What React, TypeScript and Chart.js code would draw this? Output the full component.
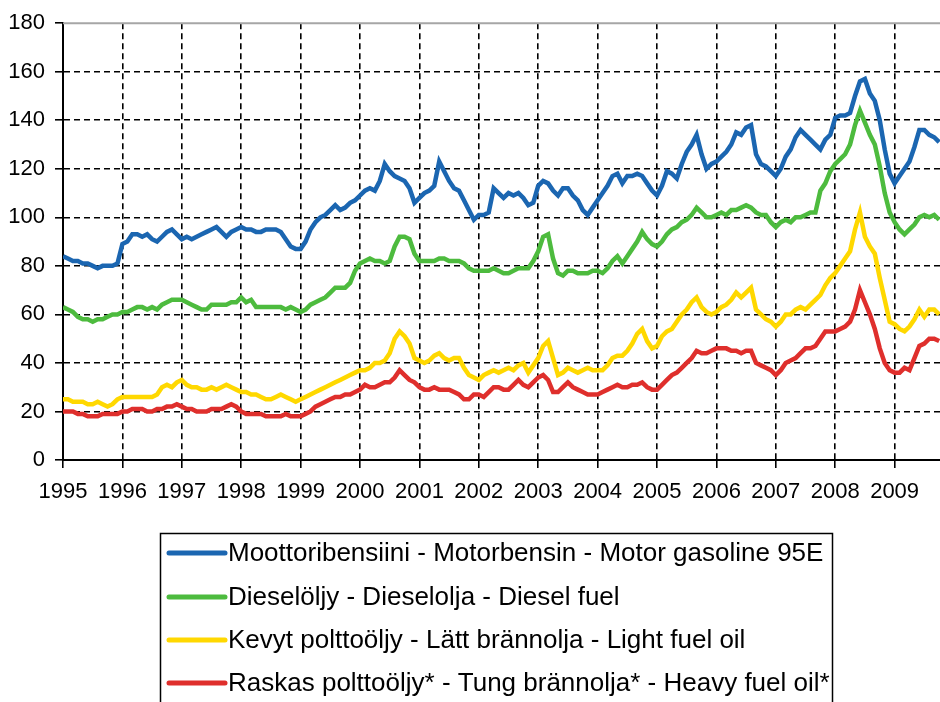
import React, { useEffect, useRef } from "react";
import { Chart, registerables } from "chart.js";

Chart.register(...registerables);

const START_YEAR = 1995;
const X_MIN = 1995;
const X_MAX = 2009.764;
const Y_TICKS = [0, 20, 40, 60, 80, 100, 120, 140, 160, 180];

const seriesLabels = [
  "Moottoribensiini - Motorbensin - Motor gasoline 95E",
  "Dieselöljy - Dieselolja - Diesel fuel",
  "Kevyt polttoöljy - Lätt brännolja - Light fuel oil",
  "Raskas polttoöljy* - Tung brännolja* - Heavy fuel oil*",
];
const seriesColors = ["#1b66b1", "#4dbb3e", "#ffd800", "#df2f2c"];

// monthly values, Jan 1995 .. Oct 2009
const gasoline = [
  84, 83, 82, 82, 81, 81, 80, 79, 80, 80, 80, 81,
  89, 90, 93, 93, 92, 93, 91, 90, 92, 94, 95, 93,
  91, 92, 91, 92, 93, 94, 95, 96, 94, 92, 94, 95,
  96, 95, 95, 94, 94, 95, 95, 95, 94, 91, 88, 87,
  87, 90, 95, 98, 100, 101, 103, 105, 103, 104, 106, 107,
  109, 111, 112, 111, 115, 122, 119, 117, 116, 115, 112, 106,
  108, 110, 111, 113, 123, 119, 115, 112, 111, 107, 103, 99,
  101, 101, 102, 112, 110, 108, 110, 109, 110, 108, 105, 106,
  113, 115, 114, 111, 109, 112, 112, 109, 107, 103, 101, 104,
  107, 110, 113, 117, 118, 114, 117, 117, 118, 117, 114, 111,
  109, 113, 119, 118, 116, 122, 127, 130, 134, 126, 120, 122,
  123, 125, 127, 130, 135, 134, 137, 138, 126, 122, 121, 119,
  117, 120, 125, 128, 133, 136, 134, 132, 130, 128, 132, 134,
  141, 142, 142, 143, 150, 156, 157, 151, 148, 140, 128, 118,
  114, 117, 120, 123, 129, 136, 136, 134, 133, 131,
];

const diesel = [
  63, 62, 61, 59, 58, 58, 57, 58, 58, 59, 60, 60,
  61, 61, 62, 63, 63, 62, 63, 62, 64, 65, 66, 66,
  66, 65, 64, 63, 62, 62, 64, 64, 64, 64, 65, 65,
  67, 65, 66, 63, 63, 63, 63, 63, 63, 62, 63, 62,
  61, 62, 64, 65, 66, 67, 69, 71, 71, 71, 73, 78,
  81, 82, 83, 82, 82, 81, 82, 88, 92, 92, 91, 85,
  82, 82, 82, 82, 83, 83, 82, 82, 82, 81, 79, 78,
  78, 78, 78, 79, 78, 77, 77, 78, 79, 79, 79, 82,
  86, 92, 93, 83, 77, 76, 78, 78, 77, 77, 77, 78,
  78, 77, 79, 82, 84, 81, 84, 87, 90, 94, 91, 89,
  88, 90, 93, 95, 96, 98, 99, 101, 104, 102, 100, 100,
  101, 102, 101, 103, 103, 104, 105, 104, 102, 101, 101, 98,
  96, 98, 99, 98, 100, 100, 101, 102, 102, 111, 114, 119,
  122, 124, 126, 130, 138, 144, 139, 134, 130, 121, 110, 102,
  98, 95, 93, 95, 97, 100, 101, 100, 101, 99,
];

const lightFuelOil = [
  25, 25, 24, 24, 24, 23, 23, 24, 23, 22, 23, 25,
  26, 26, 26, 26, 26, 26, 26, 27, 30, 31, 30, 32,
  33, 31, 30, 30, 29, 29, 30, 29, 30, 31, 30, 29,
  28, 28, 27, 27, 26, 25, 25, 26, 27, 26, 25, 24,
  25, 26, 27, 28, 29, 30, 31, 32, 33, 34, 35, 36,
  37, 37, 38, 40, 40, 41, 44, 50, 53, 51, 48, 42,
  41, 40, 41, 43, 44, 42, 41, 42, 42, 38, 35, 34,
  33, 35, 36, 37, 36, 37, 38, 37, 39, 40, 36, 39,
  42, 47, 49, 42, 35, 36, 38, 37, 36, 37, 38, 37,
  37, 37, 39, 42, 43, 43, 45, 48, 52, 54, 49, 46,
  47, 51, 53, 54, 57, 60, 62, 65, 67, 63, 61, 60,
  61, 63, 64, 66, 69, 67, 69, 71, 62, 60, 58, 57,
  55, 57, 60, 60, 62, 63, 62, 64, 66, 68, 72, 75,
  77, 80, 83, 86, 95, 102, 92, 88, 85, 75, 66, 57,
  56, 54, 53, 55, 58, 62, 59, 62, 62, 60,
];

const heavyFuelOil = [
  20, 20, 20, 19, 19, 18, 18, 18, 19, 19, 19, 19,
  20, 20, 21, 21, 21, 20, 20, 21, 21, 22, 22, 23,
  22, 21, 21, 20, 20, 20, 21, 21, 21, 22, 23, 22,
  20, 19, 19, 19, 19, 18, 18, 18, 18, 19, 18, 18,
  18, 19, 20, 22, 23, 24, 25, 26, 26, 27, 27, 28,
  29, 31, 30, 30, 31, 32, 32, 34, 37, 35, 33, 32,
  30, 29, 29, 30, 29, 29, 29, 28, 27, 25, 25, 27,
  27, 26, 28, 30, 30, 29, 29, 31, 33, 31, 30, 32,
  34, 35, 33, 28, 28, 30, 32, 30, 29, 28, 27, 27,
  27, 28, 29, 30, 31, 30, 30, 31, 31, 32, 30, 29,
  29, 31, 33, 35, 36, 38, 40, 42, 45, 44, 44, 45,
  46, 46, 46, 45, 45, 44, 45, 45, 40, 39, 38, 37,
  35, 37, 40, 41, 42, 44, 46, 46, 47, 50, 53, 53,
  53, 54, 55, 57, 62, 70, 65, 60, 54, 46, 40, 37,
  36, 36, 38, 37, 42, 47, 48, 50, 50, 49,
];

const allSeries = [gasoline, diesel, lightFuelOil, heavyFuelOil];

const FONT = "'Liberation Sans', Arial, sans-serif";

const frameAndLegend = {
  id: "frameAndLegend",
  beforeDatasetsDraw(chart: any) {
    const { ctx, chartArea } = chart;
    ctx.save();
    ctx.strokeStyle = "#a6a6a6";
    ctx.lineWidth = 2;
    ctx.beginPath();
    ctx.moveTo(chartArea.left, chartArea.top);
    ctx.lineTo(chartArea.right, chartArea.top);
    ctx.stroke();
    ctx.restore();
  },
  afterDraw(chart: any) {
    const { ctx } = chart;
    const boxL = 160.5;
    const boxT = 533.5;
    const boxR = 832.5;
    ctx.save();
    ctx.strokeStyle = "#000";
    ctx.lineWidth = 1.5;
    ctx.strokeRect(boxL, boxT, boxR - boxL, 200);
    const rows = [553, 597, 640, 683];
    ctx.font = `26px ${FONT}`;
    ctx.textBaseline = "middle";
    ctx.textAlign = "left";
    chart.data.datasets.forEach((ds: any, i: number) => {
      const y = rows[i];
      ctx.strokeStyle = ds.borderColor;
      ctx.lineWidth = 5;
      ctx.lineCap = "round";
      ctx.beginPath();
      ctx.moveTo(169, y);
      ctx.lineTo(225, y);
      ctx.stroke();
      ctx.fillStyle = "#000";
      ctx.fillText(ds.label, 228, y + 1);
    });
    ctx.restore();
  },
};

export default function App() {
  const ref = useRef<HTMLCanvasElement | null>(null);

  useEffect(() => {
    document.body.style.margin = "0";
    const canvas = ref.current!;
    const datasets = allSeries.map((vals, i) => ({
      label: seriesLabels[i],
      data: vals.map((v, m) => ({ x: START_YEAR + m / 12, y: v })),
      borderColor: seriesColors[i],
      backgroundColor: seriesColors[i],
      borderWidth: 4.5,
      pointRadius: 0,
      tension: 0,
      fill: false,
    }));

    const chart = new Chart(canvas, {
      type: "line",
      data: { datasets },
      plugins: [frameAndLegend],
      options: {
        animation: false,
        responsive: false,
        maintainAspectRatio: false,
        layout: { padding: { top: 20, right: 0, left: 0, bottom: 192 } },
        plugins: {
          legend: { display: false },
          tooltip: { enabled: false },
        },
        scales: {
          x: {
            type: "linear",
            min: X_MIN,
            max: X_MAX,
            afterFit: (s: any) => {
              s.height = 50;
            },
            ticks: {
              stepSize: 1,
              includeBounds: false,
              autoSkip: false,
              maxRotation: 0,
              padding: 11,
              color: "#000",
              font: { family: FONT, size: 22 },
              callback: (v: any) => String(v),
            },
            grid: {
              color: (c: any) => (c.tick && c.tick.value === X_MIN ? "rgba(0,0,0,0)" : "#000"),
              lineWidth: 1.6,
              tickLength: 8,
              tickColor: "#000",
              tickWidth: 1.6,
            },
            border: { display: true, color: "#000", width: 2, dash: [6, 4] },
          },
          y: {
            min: 0,
            max: 180,
            afterFit: (s: any) => {
              s.width = 63;
            },
            afterBuildTicks: (s: any) => {
              s.ticks = Y_TICKS.map((v) => ({ value: v }));
            },
            ticks: {
              padding: 10,
              color: "#000",
              font: { family: FONT, size: 22 },
            },
            grid: {
              color: (c: any) =>
                c.tick && (c.tick.value === 180 || c.tick.value === 0) ? "rgba(0,0,0,0)" : "#000",
              lineWidth: 1.6,
              tickLength: 8,
              tickColor: "#000",
              tickWidth: 1.6,
            },
            border: { display: true, color: "#000", width: 2, dash: [6, 4] },
          },
        },
      },
    });
    return () => chart.destroy();
  }, []);

  return (
    <div style={{ width: 940, height: 702, background: "#fff" }}>
      <canvas ref={ref} width={940} height={702} style={{ display: "block" }} />
    </div>
  );
}
